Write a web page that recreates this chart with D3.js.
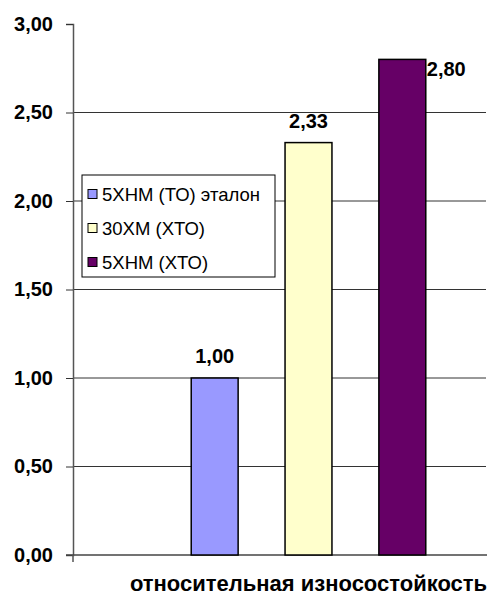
<!DOCTYPE html>
<html>
<head>
<meta charset="utf-8">
<script src="https://cdn.jsdelivr.net/npm/d3@7"></script>
<style>
  html, body { margin: 0; padding: 0; background: #fff; }
  svg { display: block; font-family: Arial, "Liberation Sans", sans-serif; }
</style>
</head>
<body>
<svg id="chart" width="487" height="596"></svg>
<script>
// Relative wear resistance of three steel grades
const category = "относительная износостойкость";
const seriesNames = ["5ХНМ (ТО) эталон", "30ХМ (ХТО)", "5ХНМ (ХТО)"];
const seriesValues = [1.00, 2.33, 2.80];
const seriesColors = ["#9999FF", "#FFFFCC", "#660066"];
const yTicks = [0, 0.5, 1.0, 1.5, 2.0, 2.5, 3.0];

const fmt = v => d3.format(".2f")(v).replace(".", ",");

const svg = d3.select("#chart");
const plot = { left: 73, right: 544, top: 24, bottom: 555 };

const y = d3.scaleLinear().domain([0, 3]).range([plot.bottom, plot.top]);
const x = d3.scaleBand()
  .domain(seriesNames)
  .range([plot.left, plot.right])
  .paddingInner(0.5)
  .paddingOuter(1.26);

// horizontal gridlines
svg.append("g")
  .selectAll("line")
  .data(yTicks.filter(t => t > 0 && t < 3))
  .join("line")
  .attr("x1", plot.left).attr("x2", 486)
  .attr("y1", d => y(d)).attr("y2", d => y(d))
  .attr("stroke", "#333").attr("stroke-width", 1);

// y axis
const yAxis = d3.axisLeft(y).tickValues(yTicks).tickSize(7).tickPadding(13).tickFormat(fmt);
const gy = svg.append("g").attr("transform", `translate(${plot.left},0)`).call(yAxis);
gy.select(".domain").attr("stroke", "#555").attr("stroke-width", 1.5);
gy.selectAll(".tick line").attr("stroke", "#333");
gy.selectAll(".tick text")
  .attr("font-size", 20).attr("font-weight", "bold").attr("fill", "#000")
  .attr("font-family", "Arial, 'Liberation Sans', sans-serif");

// baseline and category boundary tick
svg.append("line")
  .attr("x1", plot.left - 7).attr("x2", 487)
  .attr("y1", y(0)).attr("y2", y(0))
  .attr("stroke", "#444").attr("stroke-width", 1.5);
svg.append("line")
  .attr("x1", plot.left).attr("x2", plot.left)
  .attr("y1", y(0)).attr("y2", y(0) + 7)
  .attr("stroke", "#555").attr("stroke-width", 1.5);

// bars
svg.append("g")
  .selectAll("rect")
  .data(seriesNames)
  .join("rect")
  .attr("x", d => x(d))
  .attr("width", x.bandwidth())
  .attr("y", (d, i) => y(seriesValues[i]))
  .attr("height", (d, i) => y(0) - y(seriesValues[i]))
  .attr("fill", (d, i) => seriesColors[i])
  .attr("stroke", "#000").attr("stroke-width", 1.5);

// value labels
svg.append("g")
  .selectAll("text")
  .data(seriesNames)
  .join("text")
  .attr("x", (d, i) => i === 2 ? x(d) + x.bandwidth() + 1 : x(d) + x.bandwidth() / 2)
  .attr("y", (d, i) => i === 2 ? y(seriesValues[i]) + 17 : y(seriesValues[i]) - 15)
  .attr("text-anchor", (d, i) => i === 2 ? "start" : "middle")
  .attr("font-size", 20).attr("font-weight", "bold")
  .text((d, i) => fmt(seriesValues[i]));

// category label
svg.append("text")
  .attr("x", (x(seriesNames[0]) + x(seriesNames[2]) + x.bandwidth()) / 2)
  .attr("y", 591)
  .attr("text-anchor", "middle")
  .attr("font-size", 22).attr("font-weight", "bold")
  .text(category);

// legend
const legend = svg.append("g").attr("transform", "translate(82,175)");
legend.append("rect")
  .attr("width", 193).attr("height", 102)
  .attr("fill", "#fff").attr("stroke", "#000").attr("stroke-width", 1);
const rows = legend.selectAll("g.row")
  .data(seriesNames)
  .join("g")
  .attr("class", "row")
  .attr("transform", (d, i) => `translate(6,${19 + i * 34})`);
rows.append("rect")
  .attr("x", 0).attr("y", -4.5).attr("width", 9).attr("height", 9)
  .attr("fill", (d, i) => seriesColors[i])
  .attr("stroke", "#000").attr("stroke-width", 1);
rows.append("text")
  .attr("x", 14).attr("y", 0).attr("dy", "0.36em")
  .attr("font-size", 18.5)
  .text(d => d);
</script>
</body>
</html>
